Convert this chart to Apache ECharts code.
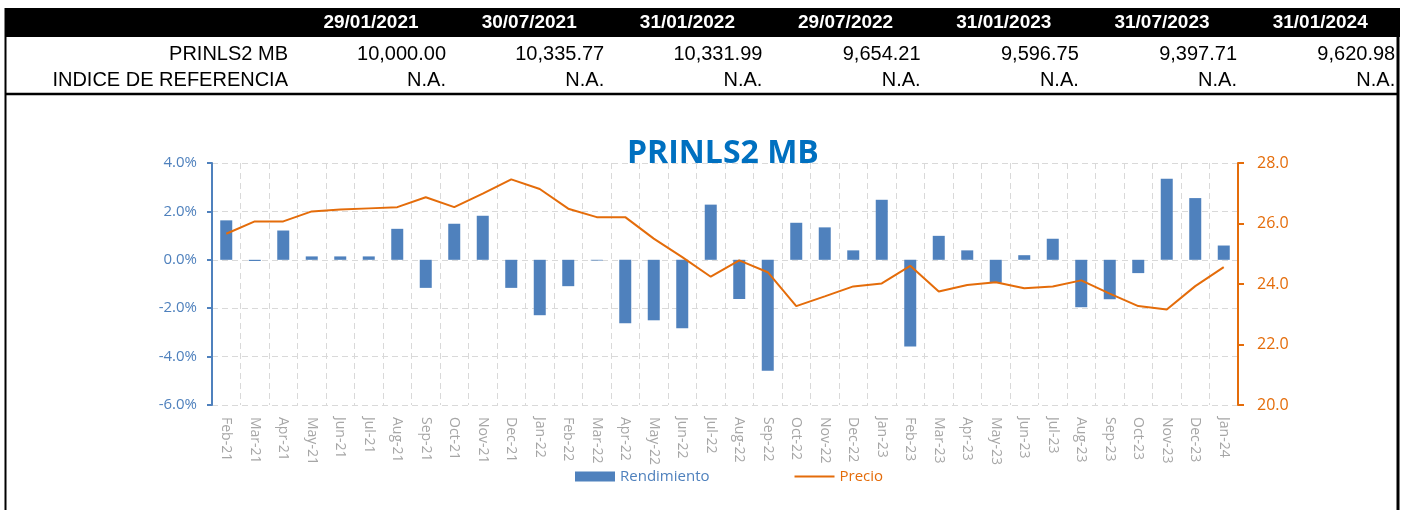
<!DOCTYPE html>
<html>
<head>
<meta charset="utf-8">
<script src="https://cdn.jsdelivr.net/npm/echarts@6/dist/echarts.min.js"></script>
<style>
  html, body { margin: 0; padding: 0; background: #fff; }
  #main { width: 1411px; height: 510px; }
</style>
</head>
<body>
<div id="main"></div>
<script>
var months = ['Feb-21','Mar-21','Apr-21','May-21','Jun-21','Jul-21','Aug-21','Sep-21','Oct-21','Nov-21','Dec-21',
  'Jan-22','Feb-22','Mar-22','Apr-22','May-22','Jun-22','Jul-22','Aug-22','Sep-22','Oct-22','Nov-22','Dec-22',
  'Jan-23','Feb-23','Mar-23','Apr-23','May-23','Jun-23','Jul-23','Aug-23','Sep-23','Oct-23','Nov-23','Dec-23','Jan-24'];

// rendimiento mensual (%)
var rendimiento = [1.63, -0.05, 1.21, 0.14, 0.14, 0.14, 1.28, -1.16, 1.49, 1.82, -1.16,
  -2.29, -1.09, -0.03, -2.62, -2.50, -2.83, 2.28, -1.62, -4.58, 1.53, 1.34, 0.39,
  2.48, -3.58, 0.99, 0.39, -0.95, 0.19, 0.87, -1.96, -1.63, -0.55, 3.35, 2.55, 0.59];

// precio
var precio = [25.66, 26.07, 26.07, 26.40, 26.46, 26.50, 26.54, 26.87, 26.54, 26.99, 27.46,
  27.14, 26.49, 26.21, 26.21, 25.50, 24.89, 24.24, 24.78, 24.39, 23.27, 23.59, 23.92,
  24.02, 24.60, 23.75, 23.97, 24.06, 23.86, 23.92, 24.12, 23.68, 23.27, 23.16, 23.93, 24.56];

// tabla superior
var tableDates = ['29/01/2021','30/07/2021','31/01/2022','29/07/2022','31/01/2023','31/07/2023','31/01/2024'];
var tableFund = ['10,000.00','10,335.77','10,331.99','9,654.21','9,596.75','9,397.71','9,620.98'];
var tableRef = ['N.A.','N.A.','N.A.','N.A.','N.A.','N.A.','N.A.'];
var rowLabels = ['PRINLS2 MB', 'INDICE DE REFERENCIA'];

var blue = '#4F81BD';
var orange = '#E46C0A';
var gridColor = '#D9D9D9';
var tableFont = '"Liberation Sans", Arial, sans-serif';
var chartFont = '"Open Sans", sans-serif';

// table drawn with graphic elements
var graphic = [
  { type: 'rect', shape: { x: 5, y: 8, width: 1395, height: 29 }, style: { fill: '#000' } },
  { type: 'line', shape: { x1: 5.5, y1: 8, x2: 5.5, y2: 510 }, style: { stroke: '#000', lineWidth: 2 } },
  { type: 'line', shape: { x1: 1398, y1: 8, x2: 1398, y2: 510 }, style: { stroke: '#000', lineWidth: 3 } },
  { type: 'line', shape: { x1: 5, y1: 94, x2: 1399, y2: 94 }, style: { stroke: '#000', lineWidth: 2.5 } }
];
rowLabels.forEach(function (t, r) {
  graphic.push({ type: 'text', style: { text: t, x: 288, y: 54 + r * 26, fill: '#000',
    font: '20px ' + tableFont, textAlign: 'right', textVerticalAlign: 'middle' } });
});
tableDates.forEach(function (d, i) {
  var cx = 371 + i * 158.2;
  graphic.push({ type: 'text', style: { text: d, x: cx, y: 23, fill: '#fff',
    font: 'bold 19px ' + tableFont, textAlign: 'center', textVerticalAlign: 'middle' } });
  graphic.push({ type: 'text', style: { text: tableFund[i], x: cx + 75, y: 54, fill: '#000',
    font: '20px ' + tableFont, textAlign: 'right', textVerticalAlign: 'middle' } });
  graphic.push({ type: 'text', style: { text: tableRef[i], x: cx + 75, y: 80, fill: '#000',
    font: '20px ' + tableFont, textAlign: 'right', textVerticalAlign: 'middle' } });
});

var chart = echarts.init(document.getElementById('main'));
var option = {
  backgroundColor: '#fff',
  animation: false,
  title: {
    text: 'PRINLS2 MB',
    left: 627,
    top: 138,
    padding: 0,
    textStyle: { color: '#0070C0', fontSize: 32, fontWeight: 'bold', fontFamily: chartFont }
  },
  legend: {
    left: 570,
    top: 464,
    itemWidth: 40,
    itemHeight: 10,
    itemGap: 84,
    textStyle: { fontSize: 15, fontFamily: chartFont },
    data: [
      { name: 'Rendimiento', icon: 'rect', textStyle: { color: blue } },
      { name: 'Precio', itemStyle: { opacity: 0 }, textStyle: { color: orange } }
    ]
  },
  grid: { left: 212, right: 173, top: 163, bottom: 105 },
  xAxis: {
    type: 'category',
    data: months,
    boundaryGap: true,
    axisLine: { show: false },
    axisTick: { show: false },
    axisLabel: { interval: 0, rotate: -90, color: '#A6A6A6', fontSize: 14, fontFamily: chartFont, margin: 12 },
    splitLine: { show: true, lineStyle: { color: gridColor, type: [6, 4], width: 1 } }
  },
  yAxis: [
    {
      type: 'value',
      min: -6,
      max: 4,
      interval: 2,
      axisLine: { show: true, lineStyle: { color: blue, width: 2 } },
      axisTick: { show: true, length: 5, lineStyle: { color: blue, width: 2 } },
      axisLabel: { color: blue, fontSize: 15, fontFamily: chartFont, margin: 15,
        formatter: function (v) { return v.toFixed(1) + '%'; } },
      splitLine: { show: true, lineStyle: { color: gridColor, type: [6, 4], width: 1 } }
    },
    {
      type: 'value',
      position: 'right',
      min: 20,
      max: 28,
      interval: 2,
      axisLine: { show: true, lineStyle: { color: orange, width: 2 } },
      axisTick: { show: true, length: 6, lineStyle: { color: orange, width: 2 } },
      axisLabel: { color: orange, fontSize: 16, fontFamily: chartFont, margin: 19,
        formatter: function (v) { return v.toFixed(1); } },
      splitLine: { show: false }
    }
  ],
  series: [
    {
      name: 'Rendimiento',
      type: 'bar',
      data: rendimiento,
      barWidth: 12,
      itemStyle: { color: blue }
    },
    {
      name: 'Precio',
      type: 'line',
      yAxisIndex: 1,
      data: precio,
      symbol: 'none',
      lineStyle: { color: orange, width: 2 },
      itemStyle: { color: orange }
    }
  ],
  graphic: graphic
};
chart.setOption(option);
</script>
</body>
</html>
